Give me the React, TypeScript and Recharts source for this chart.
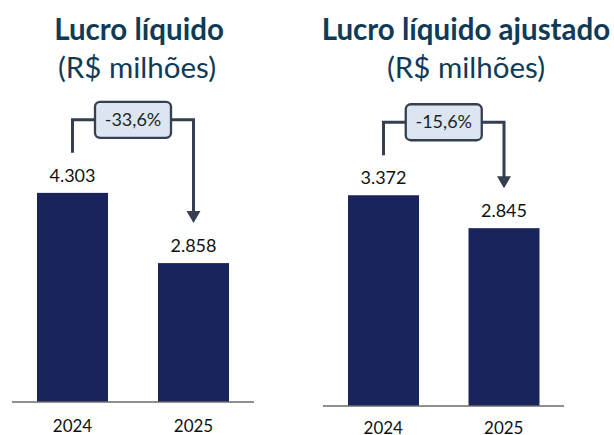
import React from "react";
import { Bar, BarChart, LabelList, XAxis, YAxis } from "recharts";

const years = ["2024", "2025"];
const lucroLiquido = [4303, 2858];
const lucroAjustado = [3372, 2845];
const changes = ["-33,6%", "-15,6%"];
const titles = ["Lucro líquido", "Lucro líquido ajustado"];
const subtitle = "(R$ milhões)";

const BAR = "#18245b";
const TITLE = "#0f3b57";
const LINE = "#353f4f";
const FONT = "Lato, 'Open Sans', sans-serif";

const fmt = (v: number) => {
  const s = String(Math.round(v));
  return s.replace(/\B(?=(\d{3})+(?!\d))/g, ".");
};

function makeShape(values: number[], plotW: number, change: string) {
  return (props: any) => {
    const { x, y, width, height, index } = props;
    const rect = <rect x={x} y={y} width={width} height={height} fill={BAR} />;
    if (index !== 1) return rect;
    // place the bracket from the scale of the second bar
    const ppu = height / values[1];
    const base = y + height;
    const t0 = base - values[0] * ppu;
    const t1 = y;
    const step = plotW / values.length;
    const c1 = x + width / 2;
    const c0 = c1 - step;
    const by = t0 - 73;
    const mid = (c0 + c1) / 2;
    const bw = 76;
    const bh = 36;
    const tip = t1 - 40;
    return (
      <g>
        {rect}
        <path
          d={`M${c0},${t0 - 40} V${by} H${mid - bw / 2} M${mid + bw / 2},${by} H${c1} V${tip - 10}`}
          fill="none"
          stroke={LINE}
          strokeWidth={3}
        />
        <polygon points={`${c1 - 7},${tip - 12} ${c1 + 7},${tip - 12} ${c1},${tip}`} fill={LINE} />
        <rect x={mid - bw / 2} y={by - bh / 2} width={bw} height={bh} rx={5} fill="#dce6f2" stroke={LINE} strokeWidth={2.3} />
        <text x={mid} y={by + 6} textAnchor="middle" fontSize={18} fontFamily={FONT} fill="#1f1f1f">
          {change}
        </text>
      </g>
    );
  };
}

function Panel({
  values,
  change,
  left,
  margin,
  axisH,
  domainMax,
  tickMargin,
}: {
  values: number[];
  change: string;
  left: number;
  margin: { top: number; right: number; bottom: number; left: number };
  axisH: number;
  domainMax: number;
  tickMargin: number;
}) {
  const W = 307;
  const H = 435;
  const data = years.map((year, i) => ({ year, value: values[i] }));
  const plotW = W - margin.left - margin.right;
  return (
    <div style={{ position: "absolute", left, top: 0 }}>
      <BarChart width={W} height={H} data={data} margin={margin} style={{ overflow: "visible" }}>
        <XAxis
          dataKey="year"
          height={axisH}
          tickLine={false}
          tickSize={0}
          tickMargin={tickMargin}
          axisLine={{ stroke: "#6b6b6b", strokeWidth: 1.5 }}
          tick={{ fontSize: 17, fill: "#111", fontFamily: FONT }}
        />
        <YAxis hide domain={[0, domainMax]} />
        <Bar
          dataKey="value"
          barSize={71}
          isAnimationActive={false}
          shape={makeShape(values, plotW, change)}
        >
          <LabelList
            dataKey="value"
            position="top"
            offset={11}
            formatter={(v: any) => fmt(Number(v))}
            style={{ fontSize: 18, fill: "#111", fontFamily: FONT }}
          />
        </Bar>
      </BarChart>
    </div>
  );
}

export default function App() {
  return (
    <div style={{ position: "absolute", left: 0, top: 0, width: 614, height: 435, background: "#fff", overflow: "hidden" }}>
      <svg width={614} height={100} style={{ position: "absolute", left: 0, top: 0 }}>
        <text x={139} y={40} textAnchor="middle" fontSize={29.5} fontWeight={700} fontFamily={FONT} fill={TITLE}>
          {titles[0]}
        </text>
        <text x={137} y={78} textAnchor="middle" fontSize={29.5} fontFamily={FONT} fill={TITLE}>
          {subtitle}
        </text>
        <text x={466} y={40} textAnchor="middle" fontSize={29.5} fontWeight={700} fontFamily={FONT} fill={TITLE}>
          {titles[1]}
        </text>
        <text x={466} y={78} textAnchor="middle" fontSize={29.5} fontFamily={FONT} fill={TITLE}>
          {subtitle}
        </text>
      </svg>
      <Panel
        values={lucroLiquido}
        change={changes[0]}
        left={0}
        margin={{ top: 159, right: 53, bottom: 0, left: 12 }}
        axisH={33}
        domainMax={5000}
        tickMargin={18}
      />
      <Panel
        values={lucroAjustado}
        change={changes[1]}
        left={307}
        margin={{ top: 156, right: 50, bottom: 0, left: 16 }}
        axisH={29}
        domainMax={4000}
        tickMargin={16}
      />
    </div>
  );
}
